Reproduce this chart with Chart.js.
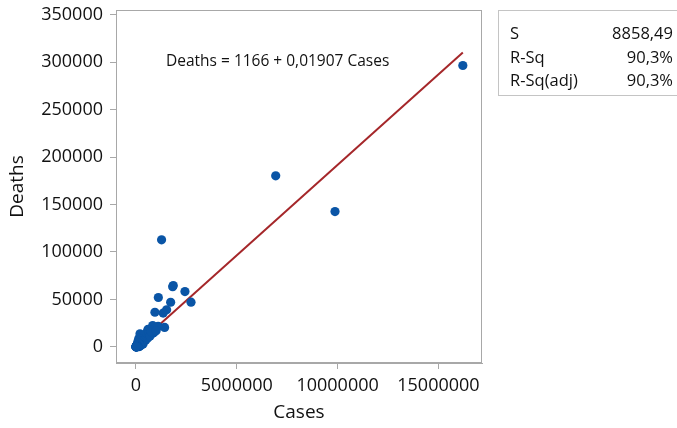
<!DOCTYPE html>
<html><head><meta charset="utf-8">
<script src="https://cdn.jsdelivr.net/npm/chart.js@4/dist/chart.umd.min.js"></script>
<style>
html,body{margin:0;padding:0;background:#fff;overflow:hidden;width:677px;height:428px;}
#wrap{position:relative;width:677px;height:428px;overflow:hidden;}
canvas{position:absolute;left:0;top:0;}
.eq{position:absolute;left:166px;top:50px;line-height:20px;font-size:15.5px;font-weight:500;font-family:"Open Sans","Noto Sans",sans-serif;color:#111;white-space:nowrap;}
.stats{position:absolute;left:498px;top:10px;width:200px;height:86px;border:1px solid #c4c4c4;box-sizing:border-box;}
.row{position:absolute;left:11px;width:163px;line-height:22px;font-size:16.5px;font-weight:500;font-family:"Open Sans","Noto Sans",sans-serif;color:#111;display:flex;justify-content:space-between;white-space:nowrap;}
</style></head>
<body>
<div id="wrap">
<canvas id="c" width="677" height="428"></canvas>
<div class="eq" id="eq"></div>
<div class="stats" id="stats"></div>
</div>
<script>
// ---- data ----
const cases = [
16210000, 9870000, 6930000, 1270000, 1850000, 1820000, 2430000, 1110000, 1720000, 2730000,
1520000, 1350000, 940000, 1420000, 1100000, 830000, 850000, 900000, 600000, 600000,
570000, 570000, 560000, 540000, 600000, 480000, 440000, 430000, 430000, 390000,
350000, 350000, 360000, 340000, 300000, 320000, 200000, 147000, 260000, 250000,
180000, 165000, 120000, 125000, 110000, 170000, 270000, 245000, 170000, 150000,
150000, 170000, 95000, 75000, 145000, 150000, 140000, 180000, 110000, 146000,
180000, 140000, 115000, 120000, 90000, 125000, 90000, 90000, 100000, 75000,
86000, 70000, 90000, 106000, 100000, 130000, 125000, 90000, 180000, 75000,
75000, 58000, 40000, 28000, 40000, 28000, 29000, 52000, 25000, 40000,
48000, 88000, 80000, 80000, 40000, 44000, 40000, 20000, 15000, 18000,
8000, 8400, 5500, 4000, 2000, 1400, 900, 700000, 760000, 1000000
];
const deaths = [
296500, 142600, 180300, 112800, 64600, 63400, 58300, 52000, 47000, 47100,
39000, 35600, 36500, 20500, 21500, 22500, 14500, 15500, 17600, 18500,
15800, 12600, 9000, 13000, 10000, 7000, 8600, 12800, 8700, 6500,
5500, 2900, 6000, 5400, 4500, 7300, 13800, 9000, 6700, 3200,
3200, 2400, 6800, 4300, 3000, 5500, 2400, 1700, 2500, 2400,
1900, 2600, 3000, 2200, 2400, 1200, 1100, 1700, 3800, 900,
600, 240, 1800, 3300, 1800, 2500, 1900, 2600, 880, 2100,
4600, 1200, 1500, 930, 2200, 1100, 1400, 1300, 2000, 1300,
610, 29, 560, 908, 370, 430, 142, 323, 440, 1150,
1900, 345, 400, 700, 350, 930, 580, 250, 110, 364,
80, 135, 27, 60, 25, 35, 0, 11500, 16000, 17000
];
const xTickValues = [0, 5000000, 10000000, 15000000];
const yTickValues = [0, 50000, 100000, 150000, 200000, 250000, 300000, 350000];
const fitIntercept = 1166;
const fitSlope = 0.01907;
const xTitle = "Cases";
const yTitle = "Deaths";
const equationText = "Deaths = 1166 + 0,01907 Cases";
const statLabels = ["S", "R-Sq", "R-Sq(adj)"];
const statValues = ["8858,49", "90,3%", "90,3%"];

// ---- build ----
const points = cases.map((c, i) => ({x: c, y: deaths[i]}));
const xMin = Math.min(...cases), xMax = Math.max(...cases);
const fitLine = [xMin, xMax].map(x => ({x: x, y: fitIntercept + fitSlope * x}));

document.getElementById('eq').textContent = equationText;
const st = document.getElementById('stats');
const rowTops = [11, 35, 58];
statLabels.forEach((l, i) => {
  const r = document.createElement('div');
  r.className = 'row';
  r.style.top = rowTops[i] + 'px';
  const a = document.createElement('span'); a.textContent = l;
  const b = document.createElement('span'); b.textContent = statValues[i];
  r.appendChild(a); r.appendChild(b); st.appendChild(r);
});

const FONT = '"Open Sans","Noto Sans",sans-serif';
const frameColor = '#a8a8a8';
const textColor = '#111';
const framePlugin = {
  id: 'frame',
  afterDraw(chart) {
    const {ctx, chartArea: a} = chart;
    ctx.save();
    ctx.strokeStyle = frameColor;
    ctx.lineWidth = 1;
    ctx.strokeRect(Math.round(a.left) + 0.5, Math.round(a.top) + 0.5, Math.round(a.right - a.left) - 1, Math.round(a.bottom - a.top) - 1);
    ctx.restore();
  }
};

new Chart(document.getElementById('c'), {
  type: 'scatter',
  data: {
    datasets: [
      {
        data: points,
        backgroundColor: '#0a55a6',
        borderColor: '#0a55a6',
        borderWidth: 0,
        pointRadius: 4.6,
        pointHoverRadius: 4.6,
        order: 0
      },
      {
        type: 'line',
        data: fitLine,
        borderColor: '#a5272a',
        borderWidth: 2,
        pointRadius: 0,
        fill: false,
        order: 1
      }
    ]
  },
  options: {
    responsive: false,
    animation: false,
    devicePixelRatio: 1,
    layout: {padding: {left: 0, right: 195, top: 10, bottom: 0}},
    plugins: {legend: {display: false}, tooltip: {enabled: false}},
    scales: {
      x: {
        type: 'linear',
        min: -990000,
        max: 17160000,
        afterBuildTicks: s => { s.ticks = xTickValues.map(v => ({value: v})); },
        afterFit: s => { s.height = 65; s.paddingLeft = 0; s.paddingRight = 0; },
        ticks: {
          callback: v => String(v),
          font: {family: FONT, size: 18, weight: 500},
          color: textColor,
          padding: 6,
          maxRotation: 0,
          autoSkip: false
        },
        grid: {drawOnChartArea: false, drawTicks: true, tickLength: 6, color: frameColor},
        border: {display: true, color: frameColor},
        title: {display: true, text: xTitle, font: {family: FONT, size: 19, weight: 500}, color: textColor, padding: {top: 4, bottom: 4}}
      },
      y: {
        type: 'linear',
        min: -17000,
        max: 355000,
        afterBuildTicks: s => { s.ticks = yTickValues.map(v => ({value: v})); },
        afterFit: s => { s.width = 116; s.paddingTop = 0; s.paddingBottom = 0; },
        ticks: {
          callback: v => String(v),
          font: {family: FONT, size: 18, weight: 500},
          color: textColor,
          padding: 7,
          autoSkip: false
        },
        grid: {drawOnChartArea: false, drawTicks: true, tickLength: 6, color: frameColor},
        border: {display: true, color: frameColor},
        title: {display: true, text: yTitle, font: {family: FONT, size: 19, weight: 500}, color: textColor, padding: {top: 6, bottom: 4}}
      }
    }
  },
  plugins: [framePlugin]
});
</script>
</body></html>
